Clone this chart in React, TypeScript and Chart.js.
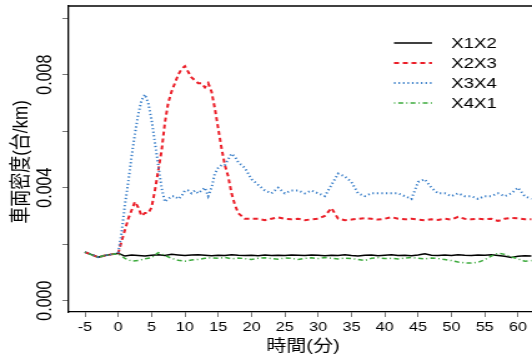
import React, { useEffect, useRef } from "react";
import { Chart, registerables } from "chart.js";

Chart.register(...registerables);

// ---------- data ----------
const seriesNames = ["X1X2", "X2X3", "X3X4", "X4X1"];

// minutes, 1-min steps (X1X2, X4X1)
const timeCoarse = [
  -5, -4, -3, -2, -1, 0, 1, 2, 3, 4, 5, 6, 7, 8, 9, 10, 11, 12, 13, 14, 15, 16, 17, 18, 19, 20,
  21, 22, 23, 24, 25, 26, 27, 28, 29, 30, 31, 32, 33, 34, 35, 36, 37, 38, 39, 40, 41, 42, 43, 44,
  45, 46, 47, 48, 49, 50, 51, 52, 53, 54, 55, 56, 57, 58, 59, 60, 61, 62,
];

// minutes, 0.5-min steps during the wave (X2X3, X3X4)
const timeFine = [
  -5, -4, -3, -2, -1, 0, 0.5, 1, 1.5, 2, 2.5, 3, 3.5, 4, 4.5, 5, 5.5, 6, 6.5, 7, 7.5, 8, 8.5, 9,
  9.5, 10, 10.5, 11, 11.5, 12, 12.5, 13, 13.5, 14, 14.5, 15, 15.5, 16, 16.5, 17, 17.5, 18, 18.5,
  19, 19.5, 20, 21, 22, 23, 24, 25, 26, 27, 28, 29, 30, 31, 32, 33, 34, 35, 36, 37, 38, 39, 40,
  41, 42, 43, 44, 45, 46, 47, 48, 49, 50, 51, 52, 53, 54, 55, 56, 57, 58, 59, 60, 61, 62,
];

const x1x2 = [
  0.00172, 0.00163, 0.00154, 0.0016, 0.00164, 0.00168, 0.00158, 0.00162, 0.0016, 0.00158,
  0.00161, 0.00163, 0.0016, 0.00164, 0.00162, 0.0016, 0.00162, 0.00163, 0.00161, 0.00159,
  0.00161, 0.0016, 0.00163, 0.00161, 0.0016, 0.00161, 0.00159, 0.00162, 0.0016, 0.00161,
  0.0016, 0.00162, 0.00161, 0.0016, 0.00162, 0.00161, 0.00159, 0.00161, 0.0016, 0.00163,
  0.0016, 0.00158, 0.00161, 0.00162, 0.00159, 0.00161, 0.00163, 0.0016, 0.00161, 0.00159,
  0.00162, 0.00166, 0.00161, 0.0016, 0.00162, 0.0016, 0.00163, 0.00161, 0.0016, 0.00162,
  0.00161, 0.00163, 0.0016, 0.00157, 0.00153, 0.00157, 0.00159, 0.00158,
];

const x4x1 = [
  0.00172, 0.00162, 0.00154, 0.0016, 0.00164, 0.00166, 0.0015, 0.0014, 0.00142, 0.00148,
  0.00152, 0.0017, 0.0016, 0.0015, 0.00143, 0.0014, 0.00144, 0.00146, 0.0015, 0.00152,
  0.0015, 0.00153, 0.00148, 0.00151, 0.00149, 0.00146, 0.0015, 0.00152, 0.00149, 0.00147,
  0.00151, 0.0015, 0.00146, 0.0015, 0.00152, 0.00149, 0.00153, 0.0015, 0.00148, 0.00151,
  0.00149, 0.00146, 0.00142, 0.0015, 0.00152, 0.00149, 0.0015, 0.00148, 0.00151, 0.00153,
  0.0015, 0.00148, 0.00151, 0.00149, 0.00146, 0.00142, 0.00137, 0.00134, 0.00133, 0.00136,
  0.00145, 0.00158, 0.00168, 0.00164, 0.00155, 0.00148, 0.0014, 0.00142,
];

const x2x3 = [
  0.00172, 0.00163, 0.00154, 0.0016, 0.00164, 0.00168, 0.0021, 0.0025, 0.0029, 0.0032, 0.0035,
  0.0033, 0.003, 0.0031, 0.0031, 0.0033, 0.0039, 0.0046, 0.0053, 0.0063, 0.007, 0.0074, 0.0077,
  0.008, 0.0082, 0.0083, 0.0081, 0.0079, 0.0078, 0.0077, 0.0077, 0.00755, 0.0077, 0.0074,
  0.0068, 0.0061, 0.0054, 0.0048, 0.0044, 0.0038, 0.0034, 0.0031, 0.003, 0.0029, 0.0029,
  0.0029, 0.0029, 0.00285, 0.0029, 0.00295, 0.0029, 0.00288, 0.0029, 0.00285, 0.00288,
  0.0029, 0.003, 0.00328, 0.0029, 0.00285, 0.00287, 0.0029, 0.00292, 0.0029, 0.00287, 0.0029,
  0.00296, 0.0029, 0.00288, 0.0029, 0.00287, 0.00285, 0.00288, 0.00286, 0.0029, 0.00287,
  0.00297, 0.0029, 0.00288, 0.0029, 0.00288, 0.0029, 0.00282, 0.0029, 0.00293, 0.00292,
  0.00288, 0.00288,
];

const x3x4 = [
  0.00172, 0.00163, 0.00154, 0.0016, 0.00164, 0.00168, 0.0024, 0.0034, 0.0042, 0.0051, 0.0059,
  0.0066, 0.0071, 0.0073, 0.007, 0.0064, 0.0056, 0.0048, 0.004, 0.0035, 0.0036, 0.0037,
  0.0037, 0.0036, 0.0037, 0.0039, 0.0039, 0.0038, 0.0039, 0.0038, 0.0039, 0.004, 0.0037,
  0.004, 0.0045, 0.0047, 0.0048, 0.0048, 0.005, 0.0052, 0.0051, 0.0049, 0.0048, 0.0047,
  0.0045, 0.0043, 0.0041, 0.0039, 0.0038, 0.004, 0.0038, 0.0039, 0.0039, 0.0038, 0.0039,
  0.0038, 0.0037, 0.0041, 0.0045, 0.0044, 0.0042, 0.0038, 0.0037, 0.0038, 0.0038, 0.0038,
  0.0038, 0.0038, 0.0037, 0.0036, 0.0042, 0.0043, 0.004, 0.0038, 0.0038, 0.0037, 0.0038,
  0.0037, 0.0037, 0.0036, 0.0037, 0.0037, 0.0038, 0.0037, 0.0038, 0.004, 0.0037, 0.0036,
];

const xTickValues = [-5, 0, 5, 10, 15, 20, 25, 30, 35, 40, 45, 50, 55, 60];
const yTickValues = [0, 0.002, 0.004, 0.006, 0.008, 0.01];
const yLabelValues = [0, 0.004, 0.008];
const yLabelTexts = ["0.000", "0.004", "0.008"];
const xTitle = "時間(分)";
const yTitle = "車両密度(台/km)";

// ---------- layout ----------
const STRETCH = 532 / 426; // reference is horizontally stretched
const CW = 426;
const CH = 360;
const FONT = '"Liberation Sans", Arial, "Noto Sans CJK JP", sans-serif';

const colors = ["#000000", "rgb(235,30,40)", "rgb(55,125,200)", "rgb(60,170,60)"];
const dashes = [[], [4, 3], [1.2, 2.4], [1, 2.4, 4, 2.4]];
const widths = [1.5, 2, 2, 1.5];

const pts = (t: number[], v: number[]) => t.map((x, i) => ({ x, y: v[i] }));

const overlay = {
  id: "overlay",
  afterDraw(chart: any) {
    const ctx = chart.ctx;
    const area = chart.chartArea;
    const ys = chart.scales.y;
    const X = (px: number) => px / STRETCH;
    ctx.save();
    // top border of the box
    ctx.strokeStyle = "#000";
    ctx.lineWidth = 1.3;
    ctx.beginPath();
    ctx.moveTo(area.left, area.top);
    ctx.lineTo(area.right, area.top);
    ctx.stroke();

    ctx.fillStyle = "#000";
    ctx.textAlign = "center";
    ctx.textBaseline = "middle";
    // y tick labels (rotated)
    ctx.font = "16px " + FONT;
    yLabelValues.forEach((v, i) => {
      ctx.save();
      ctx.translate(X(46), ys.getPixelForValue(v));
      ctx.rotate(-Math.PI / 2);
      ctx.fillText(yLabelTexts[i], 0, 0);
      ctx.restore();
    });
    // y title
    ctx.font = "17px " + FONT;
    ctx.save();
    ctx.translate(X(22), 162);
    ctx.rotate(-Math.PI / 2);
    ctx.fillText(yTitle, 0, 0);
    ctx.restore();
    // x title
    ctx.font = "16px " + FONT;
    ctx.fillText(xTitle, X(303), 347);

    // legend
    ctx.font = "15px " + FONT;
    ctx.textAlign = "left";
    seriesNames.forEach((name, i) => {
      const yy = 43 + i * 20;
      ctx.save();
      ctx.strokeStyle = colors[i];
      ctx.lineWidth = widths[i];
      ctx.setLineDash(dashes[i]);
      ctx.beginPath();
      ctx.moveTo(X(394), yy);
      ctx.lineTo(X(432), yy);
      ctx.stroke();
      ctx.restore();
      ctx.fillText(name, X(451), yy + 1);
    });
    ctx.restore();
  },
};

export default function App() {
  const ref = useRef<HTMLCanvasElement | null>(null);

  useEffect(() => {
    document.body.style.margin = "0";
    const canvas = ref.current!;
    const seriesT = [timeCoarse, timeFine, timeFine, timeCoarse];
    const seriesV = [x1x2, x2x3, x3x4, x4x1];
    const chart = new Chart(canvas, {
      type: "line",
      data: {
        datasets: seriesNames.map((name, i) => ({
          label: name,
          data: pts(seriesT[i], seriesV[i]),
          borderColor: colors[i],
          borderWidth: widths[i],
          borderDash: dashes[i],
          pointRadius: 0,
          tension: 0,
          fill: false,
          order: [3, 2, 1, 0][i],
        })),
      },
      options: {
        animation: false,
        responsive: false,
        devicePixelRatio: 1,
        parsing: true,
        layout: { padding: { top: 6, right: 0, left: 0, bottom: 0 } },
        plugins: { legend: { display: false }, tooltip: { enabled: false } },
        scales: {
          x: {
            type: "linear",
            min: -7.54,
            max: 62.1,
            afterBuildTicks: (s: any) => {
              s.ticks = xTickValues.map((v) => ({ value: v }));
            },
            afterFit: (s: any) => {
              s.height = 48;
            },
            ticks: {
              autoSkip: false,
              maxRotation: 0,
              minRotation: 0,
              padding: 3,
              color: "#000",
              font: { family: FONT, size: 13 },
              callback: (v: any) => String(v),
            },
            grid: {
              display: true,
              drawOnChartArea: false,
              drawTicks: true,
              tickLength: 5,
              color: "#777",
              lineWidth: 1,
            },
            border: { display: true, color: "#000", width: 1.3 },
          },
          y: {
            type: "linear",
            min: -0.0004,
            max: 0.01043,
            afterBuildTicks: (s: any) => {
              s.ticks = yTickValues.map((v) => ({ value: v }));
            },
            afterFit: (s: any) => {
              s.width = 68 / STRETCH;
            },
            ticks: { display: false },
            grid: {
              display: true,
              drawOnChartArea: false,
              drawTicks: true,
              tickLength: 4.5,
              color: "#777",
              lineWidth: 1,
            },
            border: { display: true, color: "#000", width: 1.3 },
          },
        },
      },
      plugins: [overlay],
    } as any);
    return () => chart.destroy();
  }, []);

  return (
    <div
      style={{
        width: CW,
        height: CH,
        transform: `scaleX(${STRETCH})`,
        transformOrigin: "0 0",
      }}
    >
      <canvas ref={ref} width={CW} height={CH} style={{ width: CW, height: CH, display: "block" }} />
    </div>
  );
}
